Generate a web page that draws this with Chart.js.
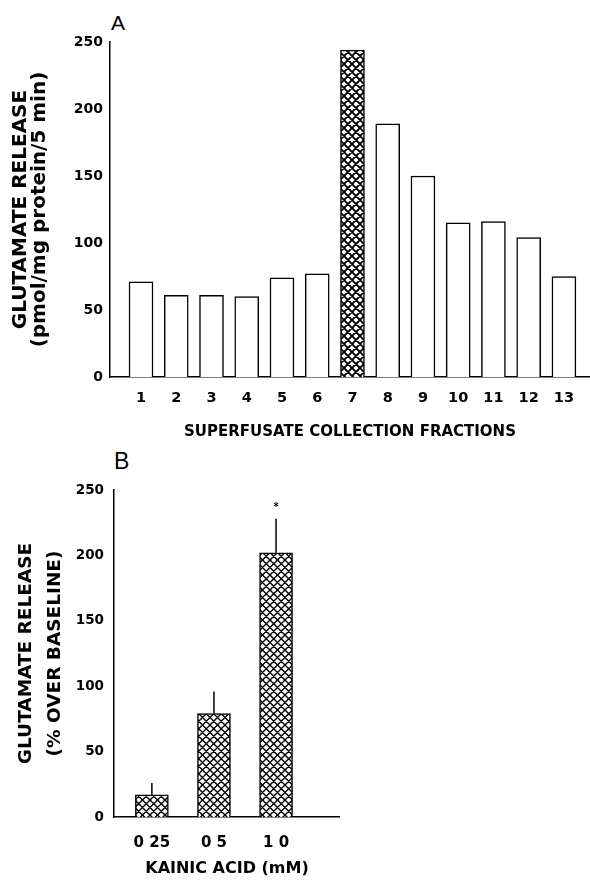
<!DOCTYPE html>
<html>
<head>
<meta charset="utf-8">
<script src="https://cdn.jsdelivr.net/npm/chart.js@4.4.1/dist/chart.umd.min.js"></script>
<style>
  body { margin: 0; background: #fff; width: 590px; height: 889px; position: relative; overflow: hidden; }
  canvas { position: absolute; left: 0; }
  #chartA { top: 0; }
  #chartB { top: 440px; }
  .panel { position: absolute; font-family: 'Liberation Sans', Arial, sans-serif; color: #000; line-height: 1; }
</style>
</head>
<body>
<div class="panel" style="left:111px; top:12px; font-size:21px;">A</div>
<div class="panel" style="left:114px; top:450px; font-size:23px;">B</div>
<canvas id="chartA" width="590" height="445"></canvas>
<canvas id="chartB" width="340" height="449"></canvas>
<script>
// panel A - release per collection fraction
const fractions = [1, 2, 3, 4, 5, 6, 7, 8, 9, 10, 11, 12, 13];
const releaseA = [71, 61, 61, 60, 74, 77, 244, 189, 150, 115, 116, 104, 75];
const kainateFraction = 7;
const yTicksA = [0, 50, 100, 150, 200, 250];

// panel B - % over baseline by kainic acid dose
const doses = ['0 25', '0 5', '1 0'];
const releaseB = [17, 79, 202];
const semB = [9, 17, 26];
const sigB = ['', '', '*'];
const yTicksB = [0, 50, 100, 150, 200, 250];

Chart.defaults.font.family = "'DejaVu Sans', sans-serif";
Chart.defaults.color = '#000';

// diamond crosshatch fill
function crossHatch(period, lineWidth) {
    const size = Math.round(period * 2);
    const c = document.createElement('canvas');
    c.width = size;
    c.height = size;
    const g = c.getContext('2d');
    g.fillStyle = '#fff';
    g.fillRect(0, 0, size, size);
    g.strokeStyle = '#000';
    g.lineWidth = lineWidth;
    g.beginPath();
    for (let k = -size; k <= size; k += size / 2) {
        g.moveTo(k, 0); g.lineTo(k + size, size);
        g.moveTo(k + size, 0); g.lineTo(k, size);
    }
    g.stroke();
    return c.getContext('2d').createPattern(c, 'repeat');
}

const hatchA = crossHatch(8, 1.9);
const hatchB = crossHatch(7.5, 1.4);

function axisFont(size) {
    return { size: size, weight: 'bold' };
}

new Chart(document.getElementById('chartA'), {
    type: 'bar',
    data: {
        datasets: [{
            data: fractions.map((f, i) => ({ x: f, y: releaseA[i] })),
            backgroundColor: fractions.map(f => f === kainateFraction ? hatchA : '#fff'),
            borderColor: '#000',
            borderWidth: 1.5,
            barThickness: 24
        }]
    },
    options: {
        responsive: false,
        animation: false,
        devicePixelRatio: 1,
        layout: { padding: { top: 42, left: 0, right: 0, bottom: 0 } },
        plugins: { legend: { display: false }, tooltip: { enabled: false } },
        scales: {
            x: {
                type: 'linear',
                offset: false,
                min: 0.12,
                max: 13.74,
                afterBuildTicks: s => { s.ticks = fractions.map(v => ({ value: v })); },
                grid: { display: false, drawTicks: false },
                border: { color: '#000', width: 1.5 },
                ticks: { padding: 13, font: axisFont(14.5), maxRotation: 0, autoSkip: false },
                title: {
                    display: true,
                    text: 'SUPERFUSATE COLLECTION FRACTIONS',
                    font: { size: 15, weight: 'bold', lineHeight: 1.2 },
                    padding: { top: 0, bottom: 4 }
                },
                afterFit: s => { s.height = 68; }
            },
            y: {
                min: 0,
                max: 250,
                afterBuildTicks: s => { s.ticks = yTicksA.map(v => ({ value: v })); },
                grid: { display: false, drawTicks: false },
                border: { color: '#000', width: 1.5 },
                ticks: { padding: 7, font: axisFont(14) },
                title: {
                    display: true,
                    text: ['GLUTAMATE RELEASE', '(pmol/mg protein/5 min)'],
                    font: { size: 20, weight: 'bold', lineHeight: 0.95 },
                    padding: { top: 11.5, bottom: 0 }
                },
                afterFit: s => { s.width = 110; }
            }
        }
    }
});

// upward-only error bars plus significance mark
const errorBars = {
    id: 'errorBars',
    afterDatasetsDraw(chart) {
        const meta = chart.getDatasetMeta(0);
        const yScale = chart.scales.y;
        const ctx = chart.ctx;
        ctx.save();
        ctx.strokeStyle = '#000';
        ctx.fillStyle = '#000';
        ctx.lineWidth = 1.5;
        meta.data.forEach((bar, i) => {
            const top = yScale.getPixelForValue(releaseB[i] + semB[i]);
            ctx.beginPath();
            ctx.moveTo(bar.x, bar.y);
            ctx.lineTo(bar.x, top);
            ctx.stroke();
            if (sigB[i]) {
                ctx.font = "bold 10px 'DejaVu Sans'";
                ctx.textAlign = 'center';
                ctx.textBaseline = 'alphabetic';
                ctx.fillText(sigB[i], bar.x, top - 9);
            }
        });
        ctx.restore();
    }
};

new Chart(document.getElementById('chartB'), {
    type: 'bar',
    data: {
        datasets: [{
            data: doses.map((d, i) => ({ x: i, y: releaseB[i] })),
            backgroundColor: hatchB,
            borderColor: '#000',
            borderWidth: 1.5,
            barThickness: 33
        }]
    },
    options: {
        responsive: false,
        animation: false,
        devicePixelRatio: 1,
        layout: { padding: { top: 50, left: 0, right: 0, bottom: 0 } },
        plugins: { legend: { display: false }, tooltip: { enabled: false } },
        scales: {
            x: {
                type: 'linear',
                offset: false,
                min: -0.61,
                max: 3.03,
                afterBuildTicks: s => { s.ticks = doses.map((d, i) => ({ value: i })); },
                grid: { display: false, drawTicks: false },
                border: { color: '#000', width: 1.5 },
                ticks: { padding: 17, font: axisFont(15), maxRotation: 0, autoSkip: false,
                    callback: v => doses[v] },
                title: {
                    display: true,
                    text: 'KAINIC ACID (mM)',
                    font: { size: 16, weight: 'bold', lineHeight: 1.2 },
                    padding: { top: 0, bottom: 11 }
                },
                afterFit: s => { s.height = 72; }
            },
            y: {
                min: 0,
                max: 250,
                afterBuildTicks: s => { s.ticks = yTicksB.map(v => ({ value: v })); },
                grid: { display: false, drawTicks: false },
                border: { color: '#000', width: 1.5 },
                ticks: { padding: 10, font: axisFont(13.5) },
                title: {
                    display: true,
                    text: ['GLUTAMATE RELEASE', '(% OVER BASELINE)'],
                    font: { size: 18.5, weight: 'bold', lineHeight: 1.54 },
                    padding: { top: 12.25, bottom: 0 }
                },
                afterFit: s => { s.width = 114; }
            }
        }
    },
    plugins: [errorBars]
});
</script>
</body>
</html>
